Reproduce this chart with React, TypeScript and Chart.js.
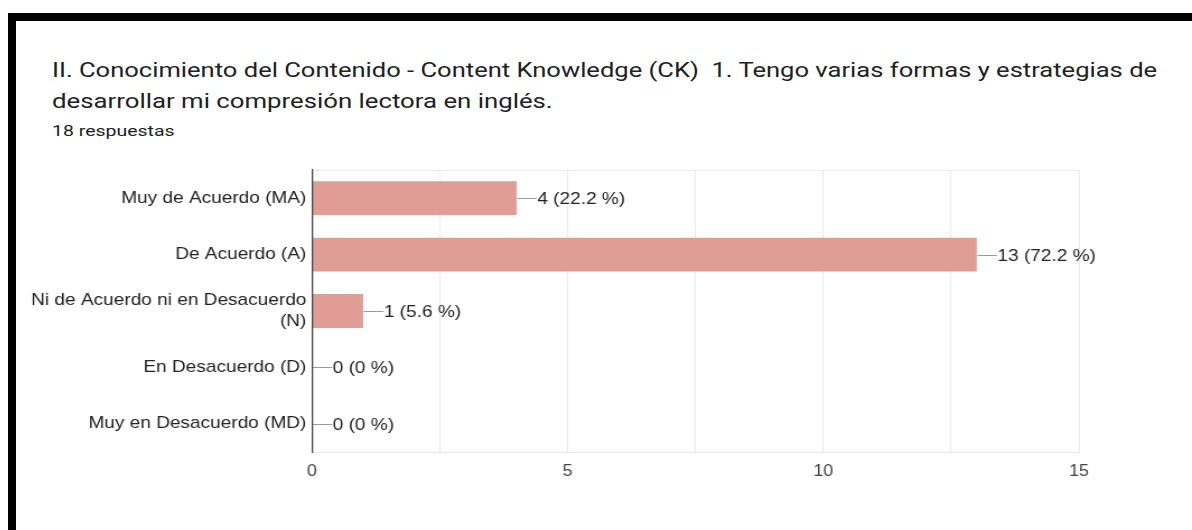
import React, { useEffect, useLayoutEffect, useRef } from "react";
import { Chart, registerables } from "chart.js";

Chart.register(...registerables);

// ---------- data ----------
const categories: (string | string[])[] = [
  "Muy de Acuerdo (MA)",
  "De Acuerdo (A)",
  ["Ni de Acuerdo ni en Desacuerdo", "(N)"],
  "En Desacuerdo (D)",
  "Muy en Desacuerdo (MD)",
];
const counts = [4, 13, 1, 0, 0];
const percents = ["22.2", "72.2", "5.6", "0", "0"];
const xTickLabels = [0, 5, 10, 15];
const titleLine1 =
  "II. Conocimiento del Contenido - Content Knowledge (CK)  1. Tengo varias formas y estrategias de";
const titleLine2 = "desarrollar mi compresión lectora en inglés.";
const responsesText = "18 respuestas";

// ---------- layout / style ----------
const STRETCH = 1.12;
const CANVAS_LEFT = 16;
const CANVAS_TOP = 150;
const CW = Math.round(1176 / STRETCH);
const CH = 380;
const PLOT_LEFT = (312 - CANVAS_LEFT) / STRETCH;
const PLOT_RIGHT = (1079 - CANVAS_LEFT) / STRETCH;
const ARIAL = '"Liberation Sans", Arial, Helvetica, sans-serif';
const BAR_COLOR = "#e09d95";
const GRID_COLOR = "#e9e9e9";

function FitText(props: {
  text: string;
  left: number;
  top: number;
  size: number;
  width: number;
  color: string;
}) {
  const ref = useRef<HTMLDivElement>(null);
  useLayoutEffect(() => {
    const el = ref.current;
    if (!el) return;
    const w = el.offsetWidth;
    if (w > 0) el.style.transform = `scaleX(${props.width / w})`;
  }, [props.text, props.width]);
  return (
    <div
      ref={ref}
      style={{
        position: "absolute",
        left: props.left,
        top: props.top,
        fontFamily: "Roboto, 'Noto Sans', sans-serif",
        fontSize: props.size,
        lineHeight: `${props.size}px`,
        color: props.color,
        whiteSpace: "pre",
        transformOrigin: "0 0",
      }}
    >
      {props.text}
    </div>
  );
}

const endLabelPlugin = {
  id: "endLabels",
  afterDatasetsDraw(chart: any) {
    const ctx = chart.ctx as CanvasRenderingContext2D;
    const meta = chart.getDatasetMeta(0);
    ctx.save();
    meta.data.forEach((bar: any, i: number) => {
      const x = bar.x;
      const y = Math.round(bar.y) + 0.5;
      ctx.strokeStyle = "#9a9a9a";
      ctx.lineWidth = 1;
      ctx.beginPath();
      ctx.moveTo(x + 0.5, y);
      ctx.lineTo(x + 18, y);
      ctx.stroke();
      ctx.fillStyle = "#222222";
      ctx.font = `17px ${ARIAL}`;
      ctx.textAlign = "left";
      ctx.textBaseline = "middle";
      ctx.fillText(`${counts[i]} (${percents[i]} %)`, x + 18.5, y + 1);
    });
    ctx.restore();
  },
};

const topBorderPlugin = {
  id: "topBorder",
  beforeDatasetsDraw(chart: any) {
    const { ctx, chartArea } = chart;
    ctx.save();
    ctx.strokeStyle = GRID_COLOR;
    ctx.lineWidth = 1;
    ctx.beginPath();
    ctx.moveTo(chartArea.left, Math.round(chartArea.top) + 0.5);
    ctx.lineTo(chartArea.right, Math.round(chartArea.top) + 0.5);
    ctx.stroke();
    ctx.restore();
  },
};

function BarChart() {
  const canvasRef = useRef<HTMLCanvasElement>(null);
  useEffect(() => {
    if (!canvasRef.current) return;
    const chart = new Chart(canvasRef.current, {
      type: "bar",
      data: {
        labels: categories,
        datasets: [
          {
            data: counts,
            backgroundColor: BAR_COLOR,
            borderWidth: 0,
            categoryPercentage: 1,
            barPercentage: 0.6,
          },
        ],
      },
      options: {
        indexAxis: "y",
        animation: false,
        responsive: false,
        devicePixelRatio: 1,
        layout: {
          padding: {
            left: 0,
            right: CW - PLOT_RIGHT,
            top: 20,
            bottom: 38,
          },
        },
        plugins: {
          legend: { display: false },
          tooltip: { enabled: false },
          title: { display: false },
        },
        scales: {
          x: {
            min: 0,
            max: 15,
            ticks: {
              stepSize: 2.5,
              autoSkip: false,
              maxRotation: 0,
              padding: 10,
              color: "#444444",
              font: { family: ARIAL, size: 16 },
              callback: (v: any) =>
                xTickLabels.includes(Number(v)) ? String(v) : "",
            },
            grid: { color: GRID_COLOR, drawTicks: false, lineWidth: 1 },
            border: { display: true, color: GRID_COLOR },
            afterFit: (s: any) => {
              s.height = 40;
            },
          },
          y: {
            ticks: {
              color: "#222222",
              padding: 5,
              autoSkip: false,
              font: { family: ARIAL, size: 17, lineHeight: 1.26 },
            },
            grid: { display: false, drawTicks: false },
            border: { display: true, color: "#4a4a4a", width: 1.3, z: 1 },
            afterFit: (s: any) => {
              s.width = PLOT_LEFT;
            },
          },
        },
      } as any,
      plugins: [topBorderPlugin, endLabelPlugin],
    });
    return () => chart.destroy();
  }, []);
  return (
    <div
      style={{
        position: "absolute",
        left: CANVAS_LEFT,
        top: CANVAS_TOP,
        width: CW,
        height: CH,
        transform: `scaleX(${STRETCH})`,
        transformOrigin: "0 0",
      }}
    >
      <canvas ref={canvasRef} width={CW} height={CH} />
    </div>
  );
}

export default function App() {
  useEffect(() => {
    document.body.style.margin = "0";
  }, []);
  return (
    <div
      style={{
        position: "fixed",
        left: 0,
        top: 0,
        width: 1192,
        height: 530,
        background: "#ffffff",
        overflow: "hidden",
      }}
    >
      <div
        style={{
          position: "absolute",
          left: 8,
          top: 13,
          width: 1184,
          height: 8,
          background: "#000",
        }}
      />
      <div
        style={{
          position: "absolute",
          left: 8,
          top: 13,
          width: 8,
          height: 517,
          background: "#000",
        }}
      />
      <FitText text={titleLine1} left={52} top={60} size={20} width={1105} color="#202124" />
      <FitText text={titleLine2} left={52} top={91} size={20} width={501} color="#202124" />
      <FitText text={responsesText} left={52} top={124} size={15} width={122} color="#202124" />
      <BarChart />
    </div>
  );
}
